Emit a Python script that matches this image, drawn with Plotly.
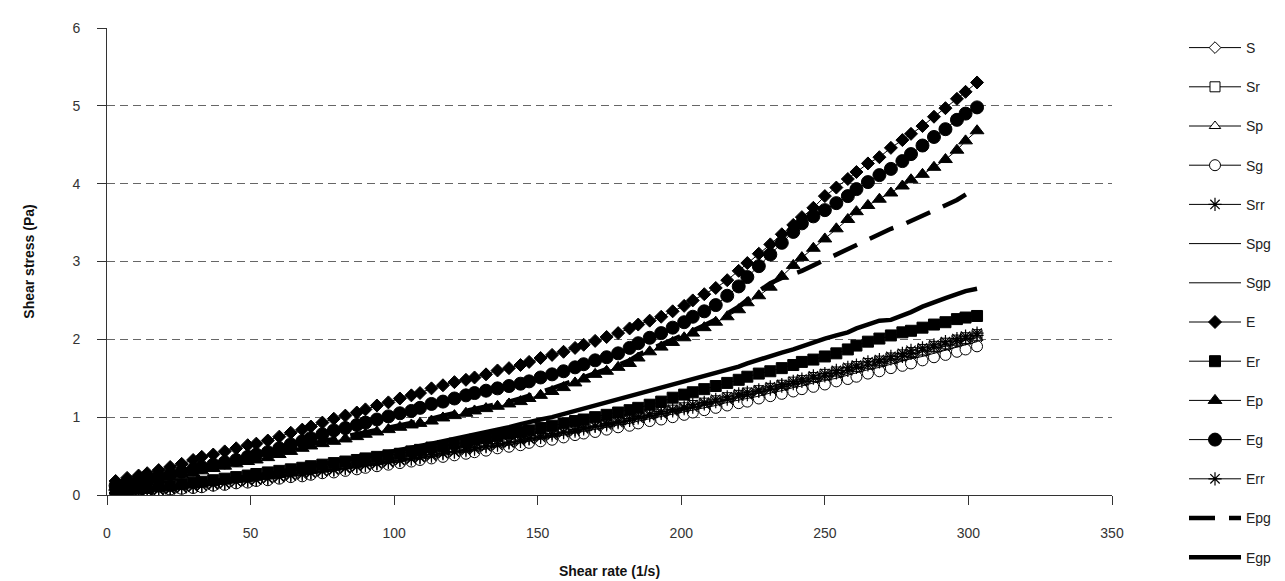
import plotly.graph_objects as go

# ---------------- data ----------------
shear_rate = [3, 7, 11, 14, 18, 22, 26, 30, 33, 37, 41, 45, 49, 52, 56, 60, 64, 68, 71, 75,
              79, 83, 87, 90, 94, 98, 102, 106, 109, 113, 117, 121, 125, 128, 132, 136, 140, 144, 147, 151,
              155, 159, 163, 166, 170, 174, 178, 182, 185, 189, 193, 197, 201, 204, 208, 212, 216, 220, 223, 227,
              231, 235, 239, 242, 246, 250, 254, 258, 261, 265, 269, 273, 277, 280, 284, 288, 292, 296, 299, 303]

S = [0.00, 0.03, 0.04, 0.05, 0.06, 0.08, 0.09, 0.10, 0.11, 0.13, 0.14, 0.16, 0.17, 0.19, 0.20, 0.22, 0.24, 0.26, 0.27, 0.29,
     0.31, 0.33, 0.35, 0.36, 0.38, 0.40, 0.43, 0.45, 0.47, 0.49, 0.51, 0.54, 0.56, 0.58, 0.60, 0.62, 0.65, 0.67, 0.70, 0.72,
     0.75, 0.77, 0.80, 0.82, 0.85, 0.88, 0.90, 0.93, 0.96, 0.99, 1.02, 1.05, 1.07, 1.10, 1.13, 1.16, 1.20, 1.23, 1.25, 1.28,
     1.32, 1.35, 1.39, 1.42, 1.45, 1.49, 1.52, 1.56, 1.59, 1.62, 1.66, 1.70, 1.73, 1.77, 1.80, 1.84, 1.88, 1.92, 1.95, 1.99]
Sr = [0.02, 0.03, 0.04, 0.05, 0.07, 0.08, 0.09, 0.11, 0.12, 0.14, 0.15, 0.17, 0.18, 0.20, 0.22, 0.23, 0.25, 0.27, 0.29, 0.31,
      0.33, 0.35, 0.36, 0.38, 0.40, 0.42, 0.45, 0.47, 0.49, 0.51, 0.53, 0.56, 0.58, 0.60, 0.62, 0.65, 0.68, 0.70, 0.72, 0.75,
      0.78, 0.81, 0.83, 0.86, 0.89, 0.91, 0.94, 0.97, 1.00, 1.03, 1.06, 1.09, 1.12, 1.15, 1.18, 1.21, 1.25, 1.28, 1.31, 1.34,
      1.37, 1.41, 1.45, 1.47, 1.51, 1.55, 1.58, 1.62, 1.65, 1.69, 1.72, 1.76, 1.80, 1.83, 1.87, 1.91, 1.95, 1.99, 2.02, 2.06]
Sp = [0.01, 0.03, 0.04, 0.04, 0.06, 0.08, 0.09, 0.10, 0.12, 0.13, 0.14, 0.16, 0.18, 0.20, 0.21, 0.22, 0.25, 0.26, 0.28, 0.29,
      0.32, 0.34, 0.35, 0.38, 0.39, 0.42, 0.44, 0.45, 0.48, 0.50, 0.53, 0.54, 0.57, 0.60, 0.61, 0.63, 0.67, 0.68, 0.71, 0.74,
      0.77, 0.78, 0.82, 0.85, 0.86, 0.90, 0.93, 0.95, 0.97, 1.01, 1.04, 1.06, 1.10, 1.13, 1.15, 1.19, 1.23, 1.25, 1.29, 1.31,
      1.34, 1.39, 1.41, 1.45, 1.49, 1.51, 1.56, 1.58, 1.62, 1.65, 1.70, 1.72, 1.77, 1.81, 1.83, 1.88, 1.91, 1.96, 1.98, 2.02]
Sg = [0.00, 0.02, 0.03, 0.04, 0.05, 0.07, 0.08, 0.09, 0.10, 0.12, 0.13, 0.15, 0.16, 0.18, 0.19, 0.21, 0.23, 0.24, 0.26, 0.28,
      0.29, 0.31, 0.33, 0.35, 0.37, 0.39, 0.41, 0.43, 0.45, 0.47, 0.49, 0.51, 0.53, 0.55, 0.57, 0.60, 0.62, 0.64, 0.67, 0.69,
      0.71, 0.74, 0.77, 0.79, 0.81, 0.84, 0.87, 0.89, 0.92, 0.95, 0.97, 1.00, 1.03, 1.06, 1.09, 1.12, 1.15, 1.18, 1.20, 1.24,
      1.27, 1.30, 1.33, 1.36, 1.39, 1.42, 1.46, 1.49, 1.52, 1.56, 1.59, 1.63, 1.66, 1.69, 1.73, 1.77, 1.80, 1.84, 1.87, 1.91]
Srr = [0.02, 0.03, 0.04, 0.05, 0.06, 0.07, 0.09, 0.10, 0.12, 0.13, 0.15, 0.17, 0.18, 0.19, 0.21, 0.23, 0.25, 0.26, 0.28, 0.30,
       0.32, 0.34, 0.36, 0.38, 0.40, 0.42, 0.44, 0.46, 0.48, 0.50, 0.53, 0.55, 0.57, 0.59, 0.62, 0.64, 0.67, 0.69, 0.72, 0.74,
       0.77, 0.80, 0.82, 0.85, 0.88, 0.90, 0.93, 0.96, 0.99, 1.02, 1.05, 1.08, 1.11, 1.13, 1.17, 1.20, 1.23, 1.27, 1.29, 1.33,
       1.36, 1.40, 1.43, 1.46, 1.50, 1.53, 1.57, 1.60, 1.64, 1.67, 1.71, 1.75, 1.78, 1.82, 1.86, 1.90, 1.94, 1.98, 2.01, 2.05]
Spg = [0.01, 0.02, 0.03, 0.05, 0.06, 0.07, 0.08, 0.10, 0.11, 0.12, 0.14, 0.16, 0.17, 0.19, 0.20, 0.22, 0.24, 0.25, 0.27, 0.29,
       0.31, 0.33, 0.35, 0.36, 0.38, 0.40, 0.42, 0.44, 0.46, 0.48, 0.51, 0.53, 0.55, 0.57, 0.59, 0.62, 0.64, 0.67, 0.69, 0.71,
       0.74, 0.77, 0.79, 0.81, 0.84, 0.87, 0.90, 0.92, 0.95, 0.98, 1.01, 1.04, 1.07, 1.09, 1.12, 1.15, 1.19, 1.22, 1.24, 1.27,
       1.31, 1.34, 1.38, 1.40, 1.44, 1.47, 1.50, 1.54, 1.57, 1.61, 1.64, 1.68, 1.72, 1.75, 1.78, 1.82, 1.86, 1.90, 1.93, 1.97]
Sgp = [0.02, 0.03, 0.03, 0.05, 0.06, 0.08, 0.09, 0.10, 0.12, 0.13, 0.15, 0.16, 0.17, 0.19, 0.21, 0.22, 0.24, 0.26, 0.28, 0.29,
       0.31, 0.34, 0.36, 0.37, 0.39, 0.41, 0.43, 0.46, 0.48, 0.49, 0.52, 0.55, 0.56, 0.59, 0.61, 0.63, 0.66, 0.69, 0.71, 0.73,
       0.76, 0.79, 0.81, 0.84, 0.87, 0.89, 0.92, 0.95, 0.98, 1.00, 1.04, 1.07, 1.09, 1.12, 1.15, 1.19, 1.22, 1.25, 1.28, 1.31,
       1.35, 1.38, 1.41, 1.44, 1.48, 1.51, 1.55, 1.58, 1.62, 1.65, 1.69, 1.73, 1.76, 1.80, 1.84, 1.88, 1.91, 1.95, 1.99, 2.02]
E = [0.18, 0.22, 0.25, 0.28, 0.32, 0.36, 0.40, 0.45, 0.49, 0.52, 0.56, 0.60, 0.64, 0.66, 0.70, 0.75, 0.80, 0.84, 0.88, 0.93,
     0.98, 1.02, 1.06, 1.10, 1.15, 1.19, 1.24, 1.28, 1.31, 1.37, 1.41, 1.45, 1.48, 1.51, 1.55, 1.60, 1.63, 1.67, 1.71, 1.76,
     1.80, 1.84, 1.89, 1.93, 1.98, 2.03, 2.08, 2.14, 2.19, 2.24, 2.29, 2.36, 2.43, 2.50, 2.58, 2.66, 2.76, 2.88, 2.98, 3.10,
     3.22, 3.35, 3.47, 3.57, 3.69, 3.84, 3.95, 4.06, 4.15, 4.26, 4.34, 4.46, 4.56, 4.64, 4.74, 4.86, 4.97, 5.09, 5.18, 5.30]
Er = [0.05, 0.06, 0.08, 0.09, 0.11, 0.12, 0.14, 0.16, 0.17, 0.19, 0.21, 0.23, 0.25, 0.27, 0.29, 0.31, 0.33, 0.35, 0.37, 0.39,
      0.41, 0.43, 0.45, 0.47, 0.49, 0.51, 0.53, 0.56, 0.58, 0.61, 0.63, 0.66, 0.68, 0.71, 0.73, 0.76, 0.79, 0.81, 0.83, 0.86,
      0.89, 0.92, 0.95, 0.97, 1.00, 1.03, 1.06, 1.09, 1.12, 1.16, 1.20, 1.25, 1.29, 1.32, 1.36, 1.40, 1.44, 1.48, 1.52, 1.56,
      1.59, 1.63, 1.67, 1.71, 1.74, 1.78, 1.82, 1.87, 1.92, 1.97, 2.01, 2.05, 2.09, 2.11, 2.15, 2.19, 2.22, 2.26, 2.28, 2.30]
Ep = [0.10, 0.12, 0.15, 0.17, 0.20, 0.23, 0.26, 0.28, 0.31, 0.34, 0.37, 0.40, 0.43, 0.45, 0.48, 0.52, 0.56, 0.60, 0.63, 0.66,
      0.69, 0.72, 0.75, 0.78, 0.81, 0.84, 0.87, 0.90, 0.92, 0.95, 0.99, 1.02, 1.05, 1.08, 1.11, 1.14, 1.17, 1.20, 1.24, 1.28,
      1.33, 1.38, 1.44, 1.49, 1.55, 1.59, 1.64, 1.69, 1.76, 1.84, 1.90, 1.96, 2.02, 2.08, 2.15, 2.22, 2.29, 2.38, 2.47, 2.56,
      2.67, 2.81, 2.95, 3.05, 3.17, 3.29, 3.42, 3.54, 3.64, 3.72, 3.80, 3.88, 3.97, 4.05, 4.12, 4.21, 4.31, 4.43, 4.55, 4.68]
Eg = [0.12, 0.15, 0.18, 0.21, 0.24, 0.27, 0.30, 0.33, 0.36, 0.39, 0.42, 0.45, 0.49, 0.52, 0.55, 0.60, 0.65, 0.69, 0.73, 0.78,
      0.83, 0.86, 0.90, 0.93, 0.97, 1.01, 1.05, 1.08, 1.12, 1.17, 1.20, 1.24, 1.28, 1.31, 1.34, 1.37, 1.40, 1.43, 1.46, 1.51,
      1.55, 1.59, 1.64, 1.68, 1.73, 1.77, 1.82, 1.89, 1.95, 2.02, 2.08, 2.15, 2.22, 2.29, 2.36, 2.44, 2.56, 2.68, 2.80, 2.94,
      3.09, 3.24, 3.38, 3.49, 3.58, 3.66, 3.75, 3.84, 3.93, 4.02, 4.11, 4.19, 4.29, 4.38, 4.49, 4.60, 4.70, 4.82, 4.90, 4.98]
Err = [0.03, 0.03, 0.05, 0.06, 0.07, 0.08, 0.10, 0.11, 0.12, 0.14, 0.15, 0.17, 0.19, 0.20, 0.22, 0.24, 0.26, 0.28, 0.29, 0.31,
       0.33, 0.35, 0.37, 0.39, 0.41, 0.43, 0.45, 0.47, 0.49, 0.52, 0.54, 0.56, 0.59, 0.61, 0.63, 0.66, 0.68, 0.71, 0.73, 0.76,
       0.79, 0.81, 0.84, 0.87, 0.89, 0.92, 0.95, 0.98, 1.01, 1.04, 1.07, 1.10, 1.13, 1.16, 1.19, 1.23, 1.26, 1.30, 1.32, 1.35,
       1.39, 1.42, 1.46, 1.49, 1.53, 1.56, 1.60, 1.64, 1.67, 1.71, 1.74, 1.78, 1.82, 1.86, 1.89, 1.93, 1.97, 2.01, 2.04, 2.08]
Epg = [0.12, 0.15, 0.17, 0.20, 0.23, 0.26, 0.28, 0.31, 0.34, 0.37, 0.40, 0.43, 0.45, 0.48, 0.51, 0.55, 0.59, 0.63, 0.66, 0.69,
       0.72, 0.75, 0.78, 0.81, 0.84, 0.87, 0.90, 0.93, 0.95, 0.98, 1.02, 1.05, 1.08, 1.11, 1.14, 1.17, 1.20, 1.24, 1.28, 1.32,
       1.37, 1.42, 1.47, 1.52, 1.57, 1.62, 1.67, 1.73, 1.80, 1.87, 1.93, 1.99, 2.05, 2.11, 2.18, 2.25, 2.33, 2.42, 2.51, 2.62,
       2.72, 2.79, 2.84, 2.88, 2.95, 3.02, 3.09, 3.16, 3.21, 3.27, 3.35, 3.42, 3.47, 3.52, 3.59, 3.66, 3.72, 3.79, 3.86, 3.95]
Egp = [0.04, 0.05, 0.07, 0.08, 0.09, 0.10, 0.12, 0.14, 0.15, 0.17, 0.19, 0.21, 0.23, 0.25, 0.27, 0.30, 0.32, 0.35, 0.37, 0.40,
       0.42, 0.45, 0.47, 0.49, 0.52, 0.55, 0.58, 0.60, 0.63, 0.66, 0.69, 0.72, 0.75, 0.78, 0.81, 0.84, 0.87, 0.91, 0.94, 0.97,
       1.00, 1.04, 1.08, 1.11, 1.14, 1.18, 1.22, 1.26, 1.30, 1.34, 1.37, 1.41, 1.45, 1.49, 1.53, 1.57, 1.61, 1.65, 1.69, 1.74,
       1.79, 1.83, 1.87, 1.91, 1.96, 2.01, 2.05, 2.09, 2.14, 2.19, 2.24, 2.25, 2.30, 2.35, 2.42, 2.48, 2.53, 2.58, 2.62, 2.65]

series_names = ["S", "Sr", "Sp", "Sg", "Srr", "Spg", "Sgp", "E", "Er", "Ep", "Eg", "Err", "Epg", "Egp"]
series_values = [S, Sr, Sp, Sg, Srr, Spg, Sgp, E, Er, Ep, Eg, Err, Epg, Egp]

x_ticks = [0, 50, 100, 150, 200, 250, 300, 350]
y_ticks = [0, 1, 2, 3, 4, 5, 6]

# ---------------- styles ----------------
FONT = "Liberation Sans, Arial, sans-serif"
open_m = dict(color="white", line=dict(color="black", width=1))
fill_m = dict(color="black", line=dict(color="black", width=1))
thin = dict(color="black", width=1)
styles = {
    "S":   dict(mode="lines+markers", line=thin, marker=dict(symbol="diamond", size=9, **open_m)),
    "Sr":  dict(mode="lines+markers", line=thin, marker=dict(symbol="square", size=10, **open_m)),
    "Sp":  dict(mode="lines+markers", line=thin, marker=dict(symbol="triangle-up", size=10, **open_m)),
    "Sg":  dict(mode="lines+markers", line=thin, marker=dict(symbol="circle", size=11, **open_m)),
    "Srr": dict(mode="lines+markers", line=thin, marker=dict(symbol="asterisk-open", size=11, line=dict(color="black", width=1.2))),
    "Spg": dict(mode="lines", line=thin),
    "Sgp": dict(mode="lines", line=thin),
    "E":   dict(mode="lines+markers", line=thin, marker=dict(symbol="diamond", size=10, **fill_m)),
    "Er":  dict(mode="lines+markers", line=thin, marker=dict(symbol="square", size=11, **fill_m)),
    "Ep":  dict(mode="lines+markers", line=thin, marker=dict(symbol="triangle-up", size=12, **fill_m)),
    "Eg":  dict(mode="lines+markers", line=thin, marker=dict(symbol="circle", size=13, **fill_m)),
    "Err": dict(mode="lines+markers", line=thin, marker=dict(symbol="asterisk-open", size=11, line=dict(color="black", width=1.2))),
    "Epg": dict(mode="lines", line=dict(color="black", width=4.5, dash="26px,14px")),
    "Egp": dict(mode="lines", line=dict(color="black", width=4.5)),
}

fig = go.Figure()
for name, vals in zip(series_names, series_values):
    fig.add_trace(go.Scatter(x=shear_rate, y=vals, name=name, legendgroup=name, **styles[name]))

fig.update_layout(
    width=1285, height=581, autosize=False,
    margin=dict(l=99, r=181, t=19, b=91),
    paper_bgcolor="white", plot_bgcolor="white",
    font=dict(family=FONT, size=14, color="#222"),
    showlegend=True,
    legend=dict(
        xref="container", yref="container", x=1176 / 1285, y=1 - 24 / 581,
        xanchor="left", yanchor="top", maxheight=1,
        traceorder="grouped", tracegroupgap=18, itemwidth=52,
        font=dict(family=FONT, size=14, color="#222"),
        bgcolor="rgba(0,0,0,0)",
    ),
    xaxis=dict(
        range=[0, 350], tickvals=x_ticks, showgrid=False, zeroline=False,
        showline=True, linecolor="#333", linewidth=1,
        ticks="outside", ticklen=9, tickcolor="#333", ticklabelstandoff=16,
        tickfont=dict(family=FONT, size=14, color="#333"),
        title=dict(text="Shear rate (1/s)", standoff=26,
                   font=dict(family=FONT, size=14, color="#111", weight="bold")),
    ),
    yaxis=dict(
        range=[0, 6], tickvals=y_ticks, zeroline=False,
        showgrid=True, gridcolor="#666", gridwidth=1, griddash="8px,5px",
        showline=True, linecolor="#333", linewidth=1,
        ticks="outside", ticklen=9, tickcolor="#333", ticklabelstandoff=14,
        tickfont=dict(family=FONT, size=14, color="#333"),
        title=dict(text="Shear stress (Pa)", standoff=34,
                   font=dict(family=FONT, size=14, color="#111", weight="bold")),
    ),
)

fig.write_html("out.html")
